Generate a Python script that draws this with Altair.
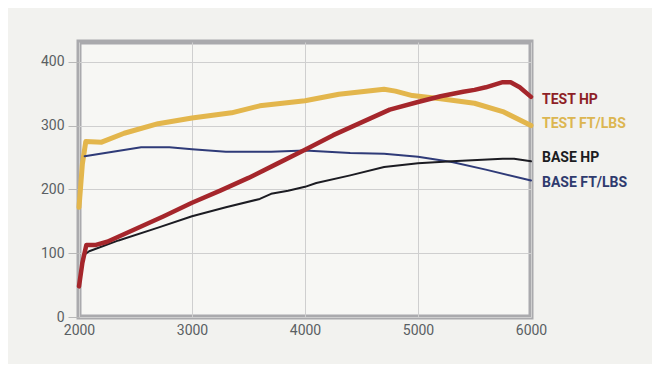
import altair as alt
import pandas as pd

# ---- data ----
test_hp_rpm = [2000, 2030, 2065, 2150, 2250, 2500, 2750, 3000, 3250, 3500, 3750, 4000, 4250, 4500, 4750, 5000, 5200, 5400, 5500, 5600, 5750, 5820, 5900, 6000]
test_hp_val = [48, 85, 113, 113, 118, 138, 158, 179, 198, 218, 240, 262, 285, 305, 325, 337, 346, 353, 356, 360, 368, 368, 360, 345]

test_tq_rpm = [2000, 2030, 2060, 2200, 2400, 2700, 3000, 3350, 3600, 4000, 4300, 4700, 4800, 4950, 5200, 5500, 5750, 6000]
test_tq_val = [172, 240, 275, 274, 288, 303, 312, 320, 331, 339, 349, 357, 354, 347, 342, 335, 322, 300]

base_hp_rpm = [2020, 2050, 2090, 2350, 2700, 3000, 3300, 3600, 3700, 3850, 4000, 4100, 4400, 4700, 5000, 5300, 5750, 5850, 6000]
base_hp_val = [82, 98, 103, 120, 140, 158, 172, 185, 193, 198, 204, 210, 222, 235, 241, 244, 248, 248, 244]

base_tq_rpm = [2050, 2300, 2550, 2800, 3000, 3300, 3700, 4000, 4400, 4700, 5000, 5300, 5600, 6000]
base_tq_val = [252, 259, 266, 266, 263, 259, 259, 261, 257, 256, 251, 243, 231, 214]

series_names = ["TEST FT/LBS", "BASE FT/LBS", "BASE HP", "TEST HP"]
series_colors = ["#e3b64c", "#2f3b78", "#1c1c22", "#a5262b"]
series_widths = [5, 2, 2, 4.5]

label_names = ["TEST HP", "TEST FT/LBS", "BASE HP", "BASE FT/LBS"]
label_y = [340, 302, 249, 210]
label_colors = ["#8e1f26", "#dcb651", "#1c1c22", "#2f3b6e"]

x_ticks = [2000, 3000, 4000, 5000, 6000]
y_ticks = [0, 100, 200, 300, 400]

FONT = "Roboto, Liberation Sans, sans-serif"

# ---- build tables ----
series_data = {
    "TEST FT/LBS": (test_tq_rpm, test_tq_val),
    "BASE FT/LBS": (base_tq_rpm, base_tq_val),
    "BASE HP": (base_hp_rpm, base_hp_val),
    "TEST HP": (test_hp_rpm, test_hp_val),
}

xs = alt.Scale(domain=[2000, 6000], nice=False, zero=False)
ys = alt.Scale(domain=[0, 431], nice=False)

x_axis = alt.Axis(values=x_ticks, title=None, ticks=False, domain=False,
                  labelPadding=6, format="d", labelFlush=False)
y_axis = alt.Axis(values=y_ticks, title=None, ticks=True, tickSize=11,
                  domain=False, labelPadding=4, format="d", labelFlush=False)

layers = []
for name, col, w in zip(series_names, series_colors, series_widths):
    xv, yv = series_data[name]
    d = pd.DataFrame({"rpm": xv, "val": yv})
    layers.append(
        alt.Chart(d)
        .mark_line(color=col, strokeWidth=w, strokeJoin="round", strokeCap="round")
        .encode(
            x=alt.X("rpm:Q", scale=xs, axis=x_axis),
            y=alt.Y("val:Q", scale=ys, axis=y_axis),
        )
    )

for name, yv, col in zip(label_names, label_y, label_colors):
    d = pd.DataFrame({"rpm": [6000], "val": [yv], "label": [name]})
    layers.append(
        alt.Chart(d)
        .mark_text(align="left", baseline="middle", dx=11, fontSize=14, fontWeight="bold",
                   font=FONT, color=col)
        .encode(
            x=alt.X("rpm:Q", scale=xs, axis=x_axis),
            y=alt.Y("val:Q", scale=ys, axis=y_axis),
            text="label:N",
        )
    )

chart = (
    alt.layer(*layers)
    .properties(
        width=452,
        height=275,
        autosize=alt.AutoSizeParams(type="none"),
        padding={"left": 71, "top": 34, "right": 121, "bottom": 47},
        background="#f2f2ef",
    )
    .configure_view(fill="#f7f7f4", stroke="#aaaaad", strokeWidth=5)
    .configure_axis(
        gridColor="#cfcfcf",
        gridWidth=1,
        tickColor="#b8b8b8",
        labelColor="#5a5f63",
        labelFontSize=14,
        labelFont=FONT,
    )
)

chart.save("out.html", embed_options={"renderer": "svg", "actions": False})
